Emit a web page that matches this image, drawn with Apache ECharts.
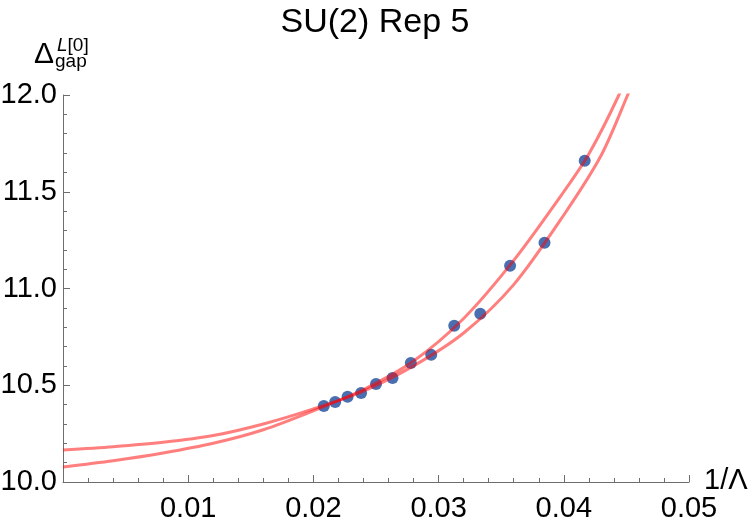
<!DOCTYPE html>
<html>
<head>
<meta charset="utf-8">
<script src="https://cdn.jsdelivr.net/npm/echarts@6/dist/echarts.min.js"></script>
<style>
  html, body { margin: 0; padding: 0; background: #fff; }
  #chart { width: 750px; height: 521px; }
</style>
</head>
<body>
<div id="chart"></div>
<script>
// measured points, x = 1/Lambda
var xPoints = [0.02083, 0.02174, 0.02273, 0.02381, 0.02500, 0.02632, 0.02778, 0.02941, 0.03125, 0.03333, 0.03571, 0.03846, 0.04167];
var yPoints = [10.393, 10.414, 10.440, 10.460, 10.507, 10.538, 10.615, 10.657, 10.807, 10.869, 11.117, 11.236, 11.660];

// fit curve (flatter one, higher at 1/Lambda = 0)
var curveAx = [0, 0.004, 0.008, 0.012, 0.016, 0.020, 0.024, 0.028, 0.032, 0.036, 0.040, 0.043, 0.0451, 0.047];
var curveAy = [10.165, 10.182, 10.205, 10.240, 10.300, 10.378, 10.470, 10.600, 10.770, 11.020, 11.380, 11.690, 12.000, 12.300];

// fit curve (steeper one, lower at 1/Lambda = 0)
var curveBx = [0, 0.004, 0.008, 0.012, 0.016, 0.020, 0.024, 0.028, 0.032, 0.036, 0.040, 0.042, 0.0444, 0.046];
var curveBy = [10.078, 10.110, 10.150, 10.200, 10.270, 10.368, 10.478, 10.625, 10.845, 11.145, 11.500, 11.695, 12.000, 12.250];

var xTicks = [0.01, 0.02, 0.03, 0.04, 0.05];

function zip(xs, ys) {
    var out = [];
    for (var i = 0; i < xs.length; i++) {
        out.push([xs[i], ys[i]]);
    }
    return out;
}

var font = 'Liberation Sans, Arial, sans-serif';
var curveStyle = { color: 'rgba(255, 0, 0, 0.5)', width: 3 };

var myChart = echarts.init(document.getElementById('chart'));
var option = {
    animation: false,
    title: {
        text: 'SU(2) Rep 5',
        left: 'center',
        top: 1,
        textStyle: { fontFamily: font, fontSize: 34, fontWeight: 'normal', color: '#000' }
    },
    grid: { left: 63, right: 61, top: 95, bottom: 39, outerBoundsMode: 'none', containLabel: false },
    xAxis: {
        type: 'value',
        min: 0,
        max: 0.05,
        interval: 0.01,
        axisLine: { onZero: false, lineStyle: { color: '#6e6e6e', width: 1 } },
        axisTick: { inside: true, length: 7, lineStyle: { color: '#6e6e6e' } },
        minorTick: { show: true, splitNumber: 5, length: 4, lineStyle: { color: '#6e6e6e' } },
        splitLine: { show: false },
        axisLabel: {
            fontFamily: font, fontSize: 29, color: '#000', margin: 12,
            formatter: function (v) {
                for (var i = 0; i < xTicks.length; i++) {
                    if (Math.abs(v - xTicks[i]) < 1e-9) return xTicks[i].toFixed(2);
                }
                return '';
            }
        }
    },
    yAxis: {
        type: 'value',
        min: 10,
        max: 12,
        interval: 0.5,
        axisLine: { show: true, onZero: false, lineStyle: { color: '#6e6e6e', width: 1 } },
        axisTick: { show: true, inside: true, length: 7, lineStyle: { color: '#6e6e6e' } },
        minorTick: { show: true, splitNumber: 5, length: 4, lineStyle: { color: '#6e6e6e' } },
        splitLine: { show: false },
        axisLabel: {
            fontFamily: font, fontSize: 29, color: '#000', margin: 6,
            formatter: function (v) { return v.toFixed(1); }
        }
    },
    graphic: [
        {
            type: 'text', left: 34, top: 40,
            style: {
                text: '{d|Δ}{g|gap}',
                rich: {
                    d: { fontFamily: font, fontSize: 30, fill: '#000' },
                    g: { fontFamily: font, fontSize: 19, fill: '#000', verticalAlign: 'bottom', padding: [14, 0, 0, 1] }
                }
            }
        },
        {
            type: 'text', left: 57, top: 36,
            style: {
                text: '{l|L}{b|[0]}',
                rich: {
                    l: { fontFamily: font, fontSize: 19, fontStyle: 'italic', fill: '#000' },
                    b: { fontFamily: font, fontSize: 19, fill: '#000' }
                }
            }
        },
        {
            type: 'text', left: 704, top: 466,
            style: { text: '1/Λ', fontFamily: font, fontSize: 29, fill: '#000' }
        }
    ],
    series: [
        {
            name: 'data',
            type: 'scatter',
            symbolSize: 12,
            itemStyle: { color: '#4a6fb0', opacity: 1 },
            data: zip(xPoints, yPoints),
            z: 2
        },
        {
            name: 'fitA',
            type: 'line',
            smooth: 0.3,
            showSymbol: false,
            clip: true,
            lineStyle: curveStyle,
            data: zip(curveAx, curveAy),
            z: 3
        },
        {
            name: 'fitB',
            type: 'line',
            smooth: 0.3,
            showSymbol: false,
            clip: true,
            lineStyle: curveStyle,
            data: zip(curveBx, curveBy),
            z: 3
        }
    ]
};
myChart.setOption(option);
</script>
</body>
</html>
